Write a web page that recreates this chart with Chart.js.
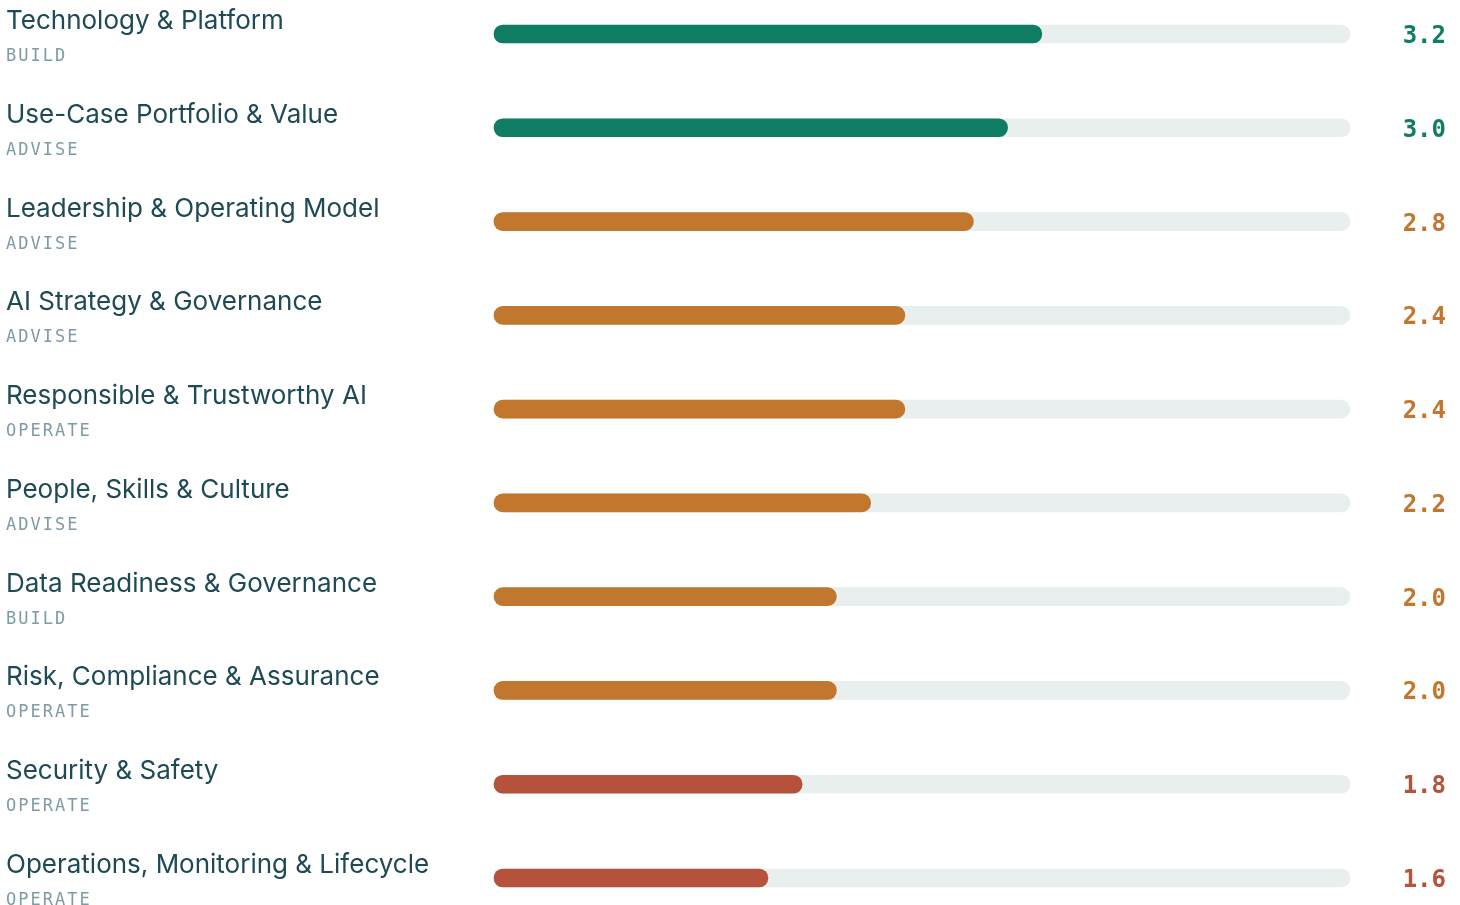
<!DOCTYPE html>
<html>
<head>
<meta charset="utf-8">
<script src="https://cdn.jsdelivr.net/npm/chart.js@4.4.1/dist/chart.umd.min.js"></script>
<style>
  html, body { margin:0; padding:0; background:#fff; }
  #wrap { position:relative; width:1460px; height:905px; }
</style>
</head>
<body>
<div id="wrap"><canvas id="scoreChart"></canvas></div>
<script>
const dimensions = ['Technology & Platform','Use-Case Portfolio & Value','Leadership & Operating Model','AI Strategy & Governance','Responsible & Trustworthy AI','People, Skills & Culture','Data Readiness & Governance','Risk, Compliance & Assurance','Security & Safety','Operations, Monitoring & Lifecycle'];
const phases = ['BUILD','ADVISE','ADVISE','ADVISE','OPERATE','ADVISE','BUILD','OPERATE','OPERATE','OPERATE'];
const scores = [3.2, 3.0, 2.8, 2.4, 2.4, 2.2, 2.0, 2.0, 1.8, 1.6];
const maxScore = 5;

const GREEN = '#0e7d63', AMBER = '#c2772f', RED = '#b5523b';
function scoreColor(v) {
  if (v >= 3) return GREEN;
  if (v >= 2) return AMBER;
  return RED;
}

const rowText = {
  id: 'rowText',
  afterDraw(chart) {
    const ctx = chart.ctx, y = chart.scales.y;
    ctx.save();
    dimensions.forEach((name, i) => {
      const py = y.getPixelForValue(i);
      ctx.textBaseline = 'alphabetic';
      ctx.textAlign = 'left';
      ctx.letterSpacing = '0px';
      ctx.fillStyle = '#1d4a55';
      ctx.font = '400 26px Inter, "Noto Sans", sans-serif';
      ctx.fillText(name, 6, py - 5);
      ctx.fillStyle = '#7f9ba3';
      ctx.font = '17px "DejaVu Sans Mono", monospace';
      ctx.letterSpacing = '2px';
      ctx.fillText(phases[i], 6, py + 27);
      ctx.letterSpacing = '0px';
      ctx.textAlign = 'right';
      ctx.fillStyle = scoreColor(scores[i]);
      ctx.font = 'bold 24px "DejaVu Sans Mono", monospace';
      ctx.fillText(scores[i].toFixed(1), 1446, py + 9);
    });
    ctx.restore();
  }
};

new Chart(document.getElementById('scoreChart'), {
  type: 'bar',
  data: {
    labels: dimensions,
    datasets: [
      { data: scores, backgroundColor: scores.map(scoreColor), order: 1 },
      { data: dimensions.map(() => maxScore), backgroundColor: '#e9efee', order: 2 }
    ]
  },
  options: {
    indexAxis: 'y',
    responsive: true, maintainAspectRatio: false, animation: false,
    layout: { padding: { left: 494, right: 110, top: 34, bottom: 27 } },
    datasets: { bar: { grouped: false, barThickness: 18, borderRadius: 9, borderSkipped: false, clip: false } },
    plugins: { legend: { display: false }, tooltip: { enabled: false } },
    scales: {
      x: { display: false, min: 0, max: maxScore },
      y: { display: false, offset: false }
    }
  },
  plugins: [rowText]
});
</script>
</body>
</html>
